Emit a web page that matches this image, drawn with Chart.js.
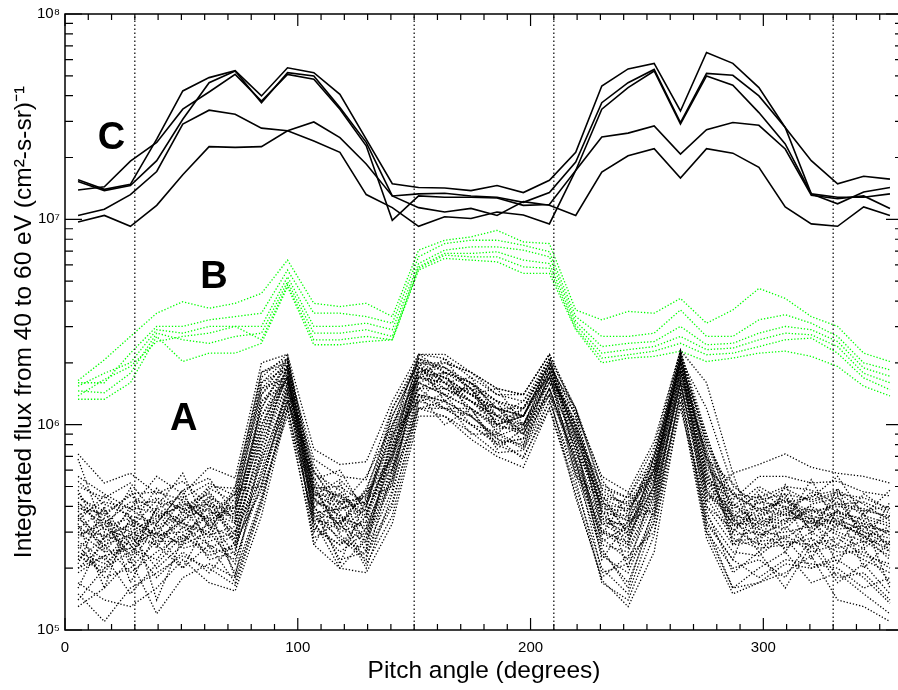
<!DOCTYPE html>
<html lang="en">
<head>
<meta charset="UTF-8">
<title>Integrated flux vs pitch angle</title>
<script src="https://cdn.jsdelivr.net/npm/chart.js@4.4.1/dist/chart.umd.min.js"></script>
<style>
  html, body { margin: 0; padding: 0; background: #fff; overflow: hidden; }
  canvas { display: block; }
</style>
</head>
<body>
<canvas id="flux" width="905" height="690"></canvas>
<script>
// pitch-angle bin centres (degrees)
const ANGLES = [5.6, 16.9, 28.1, 39.4, 50.6, 61.9, 73.1, 84.4, 95.6, 106.9, 118.1, 129.4, 140.6, 151.9, 163.1, 174.4,
                185.6, 196.9, 208.1, 219.4, 230.6, 241.9, 253.1, 264.4, 275.6, 286.9, 298.1, 309.4, 320.6, 331.9, 343.1, 354.4];

// dotted reference lines (degrees)
const VLINES = [30, 150, 210, 330];

// group C, solid black, values in units of 1e6
const C_UNIT = 1e6;
const GROUP_C = [
  [15.6,14.0,14.8,24.6,42.2,49,53,39.9,54.7,51.8,40.6,24.6,14.9,14.3,14.2,13.8,14.6,13.5,15.5,21.2,44.6,54,57.5,33.7,65,57.5,43.8,28,19.3,14.9,16.2,15.7],
  [15.3,13.8,14.6,19.3,30.7,46.3,52.8,37,51.8,49.9,35,23.7,13,13.3,13.4,13,12.8,12.1,13.5,19,37,46.3,53.7,29.6,51.4,50.3,39.9,28,13.3,11.9,13.6,14.3],
  [13.9,14.4,19.2,23.7,34.4,41.7,50.8,37.7,50.8,48.1,34.4,22.8,9.9,13,12.8,12.8,12.7,11.7,11.8,17.3,34.4,43.8,52.8,29.1,49.9,45,33.1,23.3,13.3,12.8,12.8,13.3],
  [10.45,11.2,13.2,17.1,29.1,34,32.5,27.8,27,24.1,21.2,13.2,11.4,9.25,10.3,10.1,10.85,10.5,9.5,17.3,25.2,26.3,28.5,20.8,27.3,29.6,28.7,22,13.1,12.6,13,11.3],
  [9.7,10.45,9.25,11.7,16.5,22.6,22.4,22.6,27,29.8,25,18.6,13,11.4,10.85,11.3,10.45,12.2,11.7,10.45,17,20.4,22.1,15.9,22.1,21,17.9,11.5,9.5,9.25,11.5,10.45]
];

// group B, green dotted, units of 1e6
const B_UNIT = 1e6;
const GROUP_B = [
  [1.64,2.07,2.69,3.49,3.97,3.69,3.90,4.36,6.33,3.90,3.76,3.90,3.36,7.08,7.91,8.21,8.84,7.76,7.62,3.62,3.24,3.56,3.49,4.12,3.12,3.62,4.61,4.12,3.36,3.01,2.23,2.03],
  [1.60,1.60,2.23,3.01,3.01,3.24,3.36,3.49,5.66,3.49,3.49,3.36,3.12,6.57,7.62,7.91,7.91,7.48,6.95,3.36,2.69,2.69,2.79,3.62,2.69,2.69,3.24,3.43,3.12,2.69,2.00,1.85],
  [1.54,1.78,2.00,2.90,2.79,3.01,3.01,3.01,5.25,3.01,3.01,3.12,2.90,6.09,7.08,7.34,7.34,7.08,6.57,3.18,2.40,2.49,2.54,3.01,2.45,2.49,2.79,3.01,2.90,2.54,1.89,1.72],
  [1.46,1.43,1.78,2.79,2.59,2.49,2.69,2.79,4.97,2.79,2.79,2.90,2.69,5.87,6.82,6.82,6.95,6.33,6.09,3.06,2.23,2.32,2.40,2.69,2.32,2.36,2.59,2.79,2.74,2.40,1.78,1.60],
  [1.38,1.66,1.92,2.54,2.69,2.79,3.01,2.59,4.79,2.59,2.59,2.69,2.59,5.77,6.69,6.57,6.57,5.87,5.77,2.95,2.11,2.19,2.28,2.49,2.19,2.23,2.40,2.59,2.64,2.23,1.69,1.48],
  [1.33,1.33,1.60,2.69,2.03,2.23,2.23,2.49,4.70,2.45,2.45,2.54,2.59,5.66,6.45,6.33,6.21,5.45,5.45,2.90,2.00,2.11,2.15,2.28,2.03,2.11,2.23,2.28,2.15,1.92,1.54,1.38]
];

// group A, black dotted, units of 1e5
const A_UNIT = 1e5;
const GROUP_A = [
  [3.2,2.6,2.9,3.5,4.1,3.8,3.3,9.5,19,4.6,3.9,4.2,8.5,17,16,13,10,11,19,9.8,3.6,3.1,6.2,20,6.8,3.4,3.1,3.7,3.3,3.5,3.0,2.6],
  [2.4,2.1,2.7,3.1,3.6,4.4,3.9,12,21,5.2,4.4,3.8,6.8,19,17,14,12,12,21,8.6,4.2,3.5,5.4,22,8.1,3.8,3.6,4.0,3.6,3.3,2.9,2.4],
  [4.6,3.4,3.0,2.6,3.4,4.9,4.2,15,17,3.9,3.3,4.9,10,21,19,15,11,9.4,17,10.5,3.1,2.6,7.1,19,5.6,3.0,4.3,4.6,3.0,3.8,3.4,2.9],
  [2.9,3.3,2.3,3.9,4.5,3.2,2.8,6.5,15,5.8,4.8,3.3,5.9,16,18,16,13,12,20,7.2,4.6,2.9,4.7,21,4.5,4.1,3.3,3.1,4.1,4.4,3.6,3.3],
  [3.6,2.4,3.4,2.9,3.0,3.6,4.6,18,20,4.3,3.6,2.8,7.6,14,13,11,8.8,9.8,16,11.5,3.9,3.8,6.6,18,7.4,2.7,2.8,3.5,3.5,2.9,2.5,3.1],
  [2.2,2.8,3.8,4.4,3.9,4.1,3.0,8.0,16,6.4,4.1,4.5,9.2,18,20,18,15,14,22,6.6,3.3,3.3,5.0,17,6.1,4.6,3.8,4.3,3.8,4.0,3.8,3.6],
  [5.3,4.1,3.6,3.3,4.8,5.5,3.6,13,18,3.5,3.1,3.9,11,20,16,12,9.5,10,18,9.0,5.1,4.4,7.8,23,9.0,3.5,4.8,3.9,4.5,4.8,4.1,3.4],
  [1.9,2.3,2.5,2.2,3.2,2.6,2.2,5.2,13,4.0,2.7,2.5,4.8,13,14,12,10,9.0,15,6.0,2.8,2.2,4.2,16,4.0,3.1,2.6,2.7,2.6,2.8,2.3,2.1],
  [3.9,3.7,4.5,3.8,3.3,3.0,5.0,17,22,4.9,5.0,4.1,7.0,22,21,17,14,13,21,12,4.8,4.0,5.8,21,12,5.0,4.1,4.9,4.2,4.6,4.4,3.9],
  [2.6,1.8,2.0,2.7,2.7,3.3,1.9,4.5,12,3.3,2.4,3.0,6.2,15,12,10,8.2,8.5,14,7.8,2.3,1.9,3.8,14,3.6,2.4,2.3,2.9,2.4,2.6,2.2,1.9],
  [7.2,5.2,5.8,4.6,5.3,4.0,3.9,11,19,6.8,5.6,5.4,12,21,18,16,12,11,20,10,4.4,3.8,6.0,20,6.4,4.3,5.6,5.6,5.2,5.3,4.7,4.5],
  [1.5,1.1,1.6,1.9,2.3,2.0,1.65,4.0,14,3.8,2.2,2.4,4.2,12,11,9.2,7.3,7.5,13,5.4,1.7,1.4,2.9,15,3.2,1.6,1.7,2.1,2.0,2.2,1.8,1.35],
  [3.0,2.9,3.2,4.9,3.7,4.7,3.4,10,17,4.5,4.6,3.5,8.0,17,15,13,11,10,17,9.2,3.4,3.0,5.6,19,5.2,3.6,3.4,3.3,3.9,3.1,3.2,3.0],
  [4.2,3.1,2.8,3.4,4.2,3.4,4.1,14,21,5.5,3.4,4.0,9.8,19,17,14,12,11,19,8.0,4.0,3.4,6.8,22,6.0,3.2,3.6,4.4,3.4,4.2,3.0,2.8],
  [2.0,2.6,1.9,2.4,2.9,2.4,2.5,6.0,15,4.4,3.2,2.7,5.2,14,13,11,8.5,8.0,15,6.4,3.0,2.5,4.5,17,4.8,2.9,3.0,2.5,3.0,2.5,2.7,2.3],
  [3.4,4.5,3.5,2.9,4.4,5.2,4.5,16,19,4.2,3.8,4.7,11,20,19,15,13,12,20,11,3.7,3.6,7.4,21,7.0,3.9,4.5,3.6,4.7,3.7,3.5,3.2],
  [2.7,2.2,3.0,3.6,3.3,2.9,3.2,7.2,16,5.0,3.0,3.4,7.2,16,14,12,9.8,9.4,17,7.5,3.3,2.8,5.1,18,5.0,3.3,2.9,3.0,3.2,3.4,2.8,2.5],
  [1.3,1.6,2.2,1.2,1.8,2.1,1.8,4.3,13,6.0,3.7,2.1,3.6,12,12,10,8.0,7.0,12,5.0,2.0,1.5,3.4,13,3.0,1.6,2.0,2.4,1.7,1.9,1.5,1.2],
  [4.0,3.3,4.2,4.2,3.9,3.5,3.7,12,20,4.7,4.2,4.4,8.8,18,19,16,12,11,18,10,4.4,4.2,6.4,22,8.4,4.5,3.9,4.2,3.7,4.1,3.9,3.5],
  [3.1,3.9,2.6,3.0,2.6,4.3,2.6,9.0,18,3.6,3.5,3.2,6.5,17,16,13,10.5,10,19,8.8,3.5,3.2,5.3,20,5.4,3.7,3.2,3.8,3.5,3.0,2.7,2.7],
  [2.3,2.0,2.4,3.2,2.5,2.7,3.0,5.5,14,3.1,2.6,3.6,8.0,15,15,13,11,9.0,16,8.2,2.6,2.4,4.4,16,4.4,2.8,2.5,2.6,2.8,2.4,2.4,2.0],
  [5.6,4.6,3.9,5.6,4.6,6.2,5.5,20,22,7.6,6.4,6.6,13,22,22,18,15,14,22,11.5,5.6,4.7,8.3,23,16,5.8,6.4,7.2,6.2,5.8,5.6,5.2],
  [1.7,1.4,1.3,1.6,2.2,1.7,1.55,3.6,12,3.4,2.0,1.9,3.3,11,11,8.5,7.0,6.2,12,4.6,1.75,1.3,2.4,13,2.8,1.5,1.7,1.9,2.3,1.4,1.3,1.1],
  [3.5,2.8,3.3,2.7,3.5,3.9,2.9,8.5,17,4.4,3.6,3.1,6.8,18,17,14,11,11,19,9.5,3.8,3.4,5.8,20,5.8,3.4,3.5,3.4,3.8,3.6,3.3,3.0],
  [6.8,3.0,4.9,2.5,3.9,2.8,4.8,5.0,16,3.0,5.2,2.9,5.5,18,14,15,9.0,12,17,6.2,2.9,4.6,3.6,19,4.2,5.8,2.6,5.1,2.9,4.9,2.6,4.2],
  [2.1,4.0,1.7,3.0,2.0,3.5,2.3,14,19,2.6,4.3,2.4,9.0,13,18,11,13,8.0,18,5.6,4.4,2.0,5.2,21,3.4,2.2,4.6,2.4,3.6,2.1,3.4,1.6],
  [3.3,1.6,3.6,1.4,2.8,4.0,1.8,7.8,18,4.1,2.1,4.4,5.0,20,13,16,10,11,20,8.4,2.2,3.4,3.9,18,7.0,2.6,3.4,4.6,2.2,3.9,2.0,2.7],
  [4.4,3.8,2.2,4.0,5.8,3.1,4.4,16,21,5.9,4.0,5.6,10,17,21,14,15,10,16,10,3.8,2.6,6.2,23,5.2,4.8,2.9,3.3,5.4,3.2,4.6,3.8],
  [1.6,2.9,2.6,1.8,2.4,1.9,2.7,4.8,11,2.8,3.4,2.0,4.6,14,10,12,7.6,9.6,14,4.4,1.8,2.3,3.0,12,3.8,1.9,2.4,1.6,2.6,1.7,2.1,1.5],
  [5.0,4.4,5.2,3.6,4.0,4.6,3.3,11,17,5.4,6.0,3.7,7.4,21,16,17,11,13,19,12,5.4,3.6,7.0,20,8.8,4.0,5.0,4.2,4.4,5.6,3.6,4.8],
  [2.5,3.2,3.5,2.8,3.4,2.2,2.4,6.8,14,3.2,2.6,3.1,5.6,16,14,10,9.2,7.8,15,7.0,3.0,2.7,4.6,16,4.6,3.6,2.4,3.2,2.5,3.3,2.9,2.2],
  [3.8,2.5,4.0,3.7,2.7,3.7,3.8,10,19,4.8,3.2,4.8,6.0,19,15,15,10,12,21,9.0,4.1,3.9,5.6,22,6.6,3.0,3.9,3.6,4.0,3.4,3.1,3.6],
  [2.8,3.5,2.1,3.3,4.8,2.5,2.9,13,16,4.0,4.6,2.6,7.8,15,17,13,12,9.0,17,7.8,2.7,3.2,4.8,19,5.6,4.2,3.1,2.8,3.4,2.6,3.7,2.4],
  [4.8,2.7,3.1,4.3,3.1,4.5,2.7,7.0,20,3.7,3.9,4.2,9.4,22,18,16,13,11,20,11,4.3,3.0,6.4,21,7.6,3.4,4.2,4.0,3.1,4.5,2.8,3.2],
  [1.4,2.0,2.9,2.0,2.6,3.0,2.1,5.8,13,5.2,2.9,2.3,4.0,13,12,11,8.6,6.8,13,5.8,2.4,1.7,3.6,14,3.3,2.2,1.8,2.2,2.1,2.0,1.6,1.8],
  [3.6,4.2,3.9,3.2,3.7,5.0,4.9,18,21,4.5,5.4,4.0,12,20,20,18,14,14,22,12,4.9,4.4,7.0,23,8.0,4.6,4.4,5.0,4.8,4.1,4.2,3.7],
  [2.3,1.9,2.8,2.6,2.0,2.6,1.7,4.2,12,2.6,2.0,2.8,5.4,12,13,9.0,9.0,7.6,14,6.8,1.9,2.1,3.3,15,3.0,2.0,2.2,1.8,2.8,1.8,1.9,1.4],
  [4.1,3.6,4.6,4.7,4.3,3.3,4.0,15,20,5.0,4.5,3.6,8.4,19,16,14,12,10,18,9.6,4.6,4.1,6.0,21,6.8,5.2,3.7,4.6,4.3,4.7,3.8,4.0],
  [3.0,2.4,2.5,3.9,3.4,4.2,3.5,9.0,17,3.4,3.3,4.6,7.0,17,18,15,10,11,18,8.2,3.5,2.9,5.0,19,4.8,3.3,3.3,3.9,3.3,3.8,3.2,2.6],
  [2.0,2.3,1.5,2.1,2.9,2.3,2.6,5.0,15,3.6,2.8,2.2,6.0,14,12,12,8.0,8.6,15,6.6,2.5,1.6,4.0,16,4.0,2.6,2.7,2.8,2.0,2.3,2.5,1.7]
];

// group letters, placed in data coordinates
const GROUP_LABELS = ['C', 'B', 'A'];
const LABEL_X = [20, 64, 51];
const LABEL_Y = [2.57e7, 5.4e6, 1.1e6];

const FONT = '"Liberation Sans", Arial, Helvetica, sans-serif';
const SUP = { 5: '\u2075', 6: '\u2076', 7: '\u2077', 8: '\u2078' };

function series(vals, unit) {
  return ANGLES.map((a, i) => ({ x: a, y: vals[i] * unit }));
}

const datasets = [];
VLINES.forEach(v => datasets.push({
  data: [{ x: v, y: 1e5 }, { x: v, y: 1e8 }],
  borderColor: '#000', borderWidth: 1.2, borderDash: [1.4, 2.6]
}));
GROUP_A.forEach(row => datasets.push({
  data: series(row, A_UNIT), borderColor: '#000', borderWidth: 1.3, borderDash: [1.3, 1.9]
}));
GROUP_B.forEach(row => datasets.push({
  data: series(row, B_UNIT), borderColor: '#00ff00', borderWidth: 1.3, borderDash: [1.3, 1.9]
}));
GROUP_C.forEach(row => datasets.push({
  data: series(row, C_UNIT), borderColor: '#000', borderWidth: 1.6
}));

// IDL-style frame with inward ticks on all four sides, plus the group letters
const frameTicks = {
  id: 'frameTicks',
  afterDraw(chart) {
    const { ctx, chartArea: a, scales: { x, y } } = chart;
    ctx.save();
    ctx.strokeStyle = '#000';
    ctx.lineWidth = 1.5;
    ctx.strokeRect(a.left, a.top, a.right - a.left, a.bottom - a.top);
    ctx.lineWidth = 1.2;
    ctx.beginPath();
    for (let v = 0; v <= 360; v += 10) {
      const px = x.getPixelForValue(v);
      const len = v % 100 === 0 ? 12 : 6;
      ctx.moveTo(px, a.bottom); ctx.lineTo(px, a.bottom - len);
      ctx.moveTo(px, a.top); ctx.lineTo(px, a.top + len);
    }
    for (let e = 5; e <= 8; e++) {
      for (let m = 1; m <= 9; m++) {
        if (e === 8 && m > 1) break;
        const py = y.getPixelForValue(m * Math.pow(10, e));
        const len = m === 1 ? 17 : 8;
        ctx.moveTo(a.left, py); ctx.lineTo(a.left + len, py);
        ctx.moveTo(a.right, py); ctx.lineTo(a.right - len, py);
      }
    }
    ctx.stroke();

    ctx.fillStyle = '#000';
    ctx.font = 'bold 38px ' + FONT;
    ctx.textAlign = 'center';
    ctx.textBaseline = 'alphabetic';
    GROUP_LABELS.forEach((t, i) => {
      ctx.fillText(t, x.getPixelForValue(LABEL_X[i]), y.getPixelForValue(LABEL_Y[i]) + 0.36 * 38);
    });
    ctx.restore();
  }
};

new Chart(document.getElementById('flux'), {
  type: 'line',
  data: { datasets: datasets },
  options: {
    responsive: false,
    animation: false,
    layout: { padding: { top: 11, right: 2, left: 0, bottom: 0 } },
    elements: { point: { radius: 0 }, line: { tension: 0, fill: false } },
    plugins: { legend: { display: false }, tooltip: { enabled: false } },
    scales: {
      x: {
        type: 'linear', min: 0, max: 360,
        grid: { display: false, drawTicks: false },
        border: { display: false },
        ticks: {
          stepSize: 100, includeBounds: false, padding: 9, maxRotation: 0,
          color: '#000', font: { family: FONT, size: 15 }
        },
        title: {
          display: true, text: 'Pitch angle (degrees)', color: '#000',
          font: { family: FONT, size: 24.5 }, padding: { top: 0, bottom: 4 }
        },
        afterFit(s) { s.height = 60; }
      },
      y: {
        type: 'logarithmic', min: 1e5, max: 1e8,
        grid: { display: false, drawTicks: false },
        border: { display: false },
        ticks: {
          autoSkip: false, padding: 5, color: '#000', font: { family: FONT, size: 15 },
          callback(v) {
            const e = Math.log10(v);
            const r = Math.round(e);
            return Math.abs(e - r) < 1e-9 ? '10' + SUP[r] : '';
          }
        },
        title: {
          display: true, text: 'Integrated flux from 40 to 60 eV (cm\u00b2-s-sr)\u207b\u00b9', color: '#000',
          font: { family: FONT, size: 24.5 }, padding: { top: 10, bottom: 0 }
        },
        afterFit(s) { s.width = 65; }
      }
    }
  },
  plugins: [frameTicks]
});
</script>
</body>
</html>
